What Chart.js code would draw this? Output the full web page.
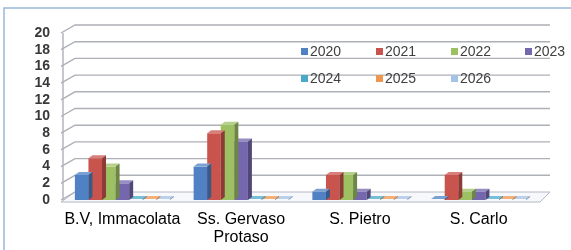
<!DOCTYPE html>
<html>
<head>
<meta charset="utf-8">
<script src="https://cdn.jsdelivr.net/npm/chart.js@4/dist/chart.umd.min.js"></script>
<style>
    html, body { margin: 0; padding: 0; background: #ffffff; }
    #wrap { width: 571px; height: 250px; position: relative; }
</style>
</head>
<body>
<div id="wrap"><canvas id="chart"></canvas></div>
<script>
const categories = ["B.V, Immacolata", ["Ss. Gervaso", "Protaso"], "S. Pietro", "S. Carlo"];
const years = ["2020", "2021", "2022", "2023", "2024", "2025", "2026"];

const values2020 = [3, 4, 1, 0];
const values2021 = [5, 8, 3, 3];
const values2022 = [4, 9, 3, 1];
const values2023 = [2, 7, 1, 1];
const values2024 = [0, 0, 0, 0];
const values2025 = [0, 0, 0, 0];
const values2026 = [0, 0, 0, 0];

const yMin = 0;
const yMax = 20;
const yStep = 2;

const seriesValues = [values2020, values2021, values2022, values2023, values2024, values2025, values2026];
const seriesColors = ["#4f81c4", "#c9544d", "#9cc062", "#7467ad", "#4aa9c8", "#f0964e", "#a4c2e4"];

// back wall offset and bar depth for the fake 3D look
const wallDx = 12;
const wallDy = -8;
const barDx = 4;
const barDy = -3;

function shade(hex, amount) {
    const n = parseInt(hex.slice(1), 16);
    let r = (n >> 16) & 255, g = (n >> 8) & 255, b = n & 255;
    const f = c => Math.max(0, Math.min(255, Math.round(amount < 0 ? c * (1 + amount) : c + (255 - c) * amount)));
    return `rgb(${f(r)}, ${f(g)}, ${f(b)})`;
}

const frame3d = {
    id: 'frame3d',
    beforeDraw(chart) {
        const ctx = chart.ctx;
        ctx.save();
        ctx.fillStyle = '#ffffff';
        ctx.fillRect(0, 0, chart.width, chart.height);
        // outer border (top and left only visible)
        ctx.strokeStyle = '#9ab6da';
        ctx.lineWidth = 1.5;
        ctx.beginPath();
        ctx.moveTo(4, chart.height);
        ctx.lineTo(4, 8);
        ctx.lineTo(chart.width, 8);
        ctx.stroke();
        ctx.restore();
    },
    beforeDatasetsDraw(chart) {
        const ctx = chart.ctx;
        const area = chart.chartArea;
        const y = chart.scales.y;
        ctx.save();
        // floor
        const base = y.getPixelForValue(0);
        ctx.fillStyle = '#f7f8fb';
        ctx.strokeStyle = '#b4b8c4';
        ctx.lineWidth = 1;
        ctx.beginPath();
        ctx.moveTo(area.left - 2, base + 2);
        ctx.lineTo(area.right + 2, base + 2);
        ctx.lineTo(area.right + wallDx, base + wallDy);
        ctx.lineTo(area.left + wallDx, base + wallDy);
        ctx.closePath();
        ctx.fill();
        ctx.stroke();
        // back wall grid lines
        ctx.strokeStyle = '#aeb0b8';
        ctx.lineWidth = 1.4;
        for (let v = yMin; v <= yMax; v += yStep) {
            const py = y.getPixelForValue(v);
            ctx.beginPath();
            ctx.moveTo(area.left - 2, py);
            ctx.lineTo(area.left + wallDx, py + wallDy);
            if (v > yMin) ctx.lineTo(area.right + wallDx, py + wallDy);
            ctx.stroke();
        }
        // side wall edge
        ctx.beginPath();
        ctx.moveTo(area.left, y.getPixelForValue(yMax));
        ctx.lineTo(area.left, base);
        ctx.stroke();
        ctx.restore();
    },
    afterDatasetDraw(chart, args) {
        const ctx = chart.ctx;
        const meta = args.meta;
        const color = seriesColors[args.index];
        ctx.save();
        meta.data.forEach(bar => {
            const left = bar.x - bar.width / 2;
            const right = bar.x + bar.width / 2;
            const top = Math.min(bar.y, bar.base - 1);
            // top face
            ctx.fillStyle = shade(color, 0.25);
            ctx.beginPath();
            ctx.moveTo(left, top);
            ctx.lineTo(left + barDx, top + barDy);
            ctx.lineTo(right + barDx, top + barDy);
            ctx.lineTo(right, top);
            ctx.closePath();
            ctx.fill();
            // side face
            ctx.fillStyle = shade(color, -0.3);
            ctx.beginPath();
            ctx.moveTo(right, top);
            ctx.lineTo(right + barDx, top + barDy);
            ctx.lineTo(right + barDx, bar.base + barDy);
            ctx.lineTo(right, bar.base);
            ctx.closePath();
            ctx.fill();
        });
        ctx.restore();
    },
    afterDraw(chart) {
        // legend sits inside the plot, two rows
        const ctx = chart.ctx;
        const colX = [301, 376, 451, 525];
        const rowY = [52, 79];
        ctx.save();
        ctx.font = '14px "Liberation Sans", Arial, sans-serif';
        ctx.textBaseline = 'middle';
        chart.data.datasets.forEach((ds, i) => {
            const x = colX[i % 4];
            const yy = rowY[Math.floor(i / 4)];
            ctx.fillStyle = ds.backgroundColor;
            ctx.fillRect(x, yy - 4, 7, 7);
            ctx.fillStyle = '#404040';
            ctx.fillText(ds.label, x + 9, yy);
        });
        ctx.restore();
    }
};

const datasets = years.map((year, i) => ({
    label: year,
    data: seriesValues[i],
    backgroundColor: seriesColors[i],
    borderWidth: 0,
    categoryPercentage: 0.8,
    barPercentage: 1.0
}));

new Chart(document.getElementById('chart'), {
    type: 'bar',
    data: { labels: categories, datasets: datasets },
    options: {
        responsive: true,
        maintainAspectRatio: false,
        animation: false,
        layout: { padding: { left: 4, right: 33, top: 33, bottom: 0 } },
        plugins: {
            legend: { display: false },
            tooltip: { enabled: false }
        },
        scales: {
            x: {
                grid: { display: false, drawTicks: false },
                border: { display: false },
                ticks: {
                    color: '#000000',
                    padding: 10,
                    maxRotation: 0,
                    autoSkip: false,
                    font: { family: '"Liberation Sans", Arial, sans-serif', size: 16, lineHeight: 1.15 }
                },
                afterFit: scale => { scale.height = 50; }
            },
            y: {
                min: yMin,
                max: yMax,
                grid: { display: false, drawTicks: false },
                border: { display: false },
                ticks: {
                    stepSize: yStep,
                    autoSkip: false,
                    color: '#383838',
                    padding: 13,
                    font: { family: '"Liberation Sans", Arial, sans-serif', size: 14, weight: 'bold' }
                },
                afterFit: scale => { scale.width = 59; }
            }
        }
    },
    plugins: [frame3d]
});
</script>
</body>
</html>
